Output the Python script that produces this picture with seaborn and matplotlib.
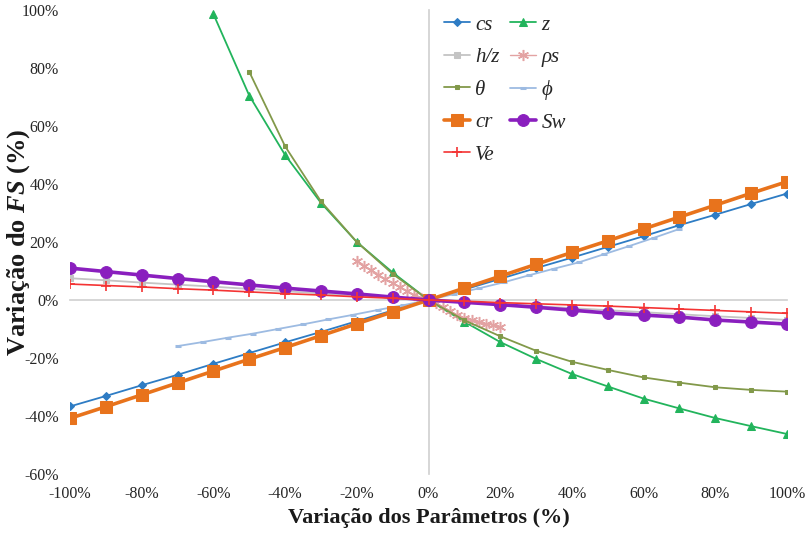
import matplotlib
matplotlib.use("Agg")
import matplotlib.pyplot as plt
import seaborn as sns
from matplotlib.ticker import FuncFormatter

sns.set_theme(style="white")
plt.rcParams["font.family"] = ["Liberation Serif", "DejaVu Serif"]
plt.rcParams["mathtext.fontset"] = "custom"
plt.rcParams["mathtext.bfit"] = "Liberation Serif:bold:italic"
plt.rcParams["mathtext.it"] = "Liberation Serif:italic"
plt.rcParams["mathtext.rm"] = "Liberation Serif"

# ---- data: variation of the parameter (%) vs variation of FS (%) ----
x_full = [-100, -90, -80, -70, -60, -50, -40, -30, -20, -10, 0,
          10, 20, 30, 40, 50, 60, 70, 80, 90, 100]

cs = [-36.7, -33.1, -29.4, -25.8, -22.0, -18.3, -14.6, -11.0, -7.3, -3.6, 0,
      3.6, 7.3, 11.0, 14.6, 18.3, 22.0, 25.8, 29.4, 33.1, 36.7]

x_z = [-60, -50, -40, -30, -20, -10, 0, 10, 20, 30, 40, 50, 60, 70, 80, 90, 100]
z = [98.6, 70.5, 50.0, 33.5, 20.0, 9.5, 0, -7.5, -14.5, -20.3, -25.5,
     -29.8, -34.0, -37.4, -40.7, -43.5, -46.2]

h_z = [7.5, 6.8, 6.0, 5.3, 4.6, 3.8, 3.0, 2.3, 1.5, 0.8, 0,
       -0.7, -1.4, -2.1, -2.8, -3.5, -4.2, -4.9, -5.6, -6.2, -6.9]

x_rho = [-20, -18, -16, -14, -12, -10, -8, -6, -4, -2, 0,
         2, 4, 6, 8, 10, 12, 14, 16, 18, 20]
rho_s = [13.5, 11.8, 10.3, 8.7, 7.2, 5.8, 4.4, 3.0, 1.8, 0.8, 0,
         -1.2, -2.4, -3.8, -5.2, -6.2, -6.9, -7.6, -8.2, -8.6, -9.2]

x_theta = [-50, -40, -30, -20, -10, 0, 10, 20, 30, 40, 50, 60, 70, 80, 90, 100]
theta = [78.7, 53.0, 34.0, 20.0, 9.0, 0, -7.0, -12.5, -17.5, -21.3,
         -24.1, -26.7, -28.5, -30.1, -31.0, -31.6]

x_phi = [-70, -63, -56, -49, -42, -35, -28, -21, -14, -7, 0,
         7, 14, 21, 28, 35, 42, 49, 56, 63, 70]
phi = [-15.9, -14.5, -13.0, -11.6, -10.0, -8.4, -6.7, -5.1, -3.4, -1.8, 0,
       2.0, 4.0, 6.1, 8.5, 10.8, 13.0, 15.8, 18.6, 21.5, 24.5]

cr = [-40.8, -36.8, -32.7, -28.6, -24.5, -20.4, -16.4, -12.3, -8.2, -4.1, 0,
      4.1, 8.2, 12.3, 16.4, 20.4, 24.5, 28.6, 32.7, 36.8, 40.8]

sw = [11.0, 9.8, 8.6, 7.4, 6.3, 5.2, 4.1, 3.1, 2.1, 1.0, 0,
      -0.8, -1.6, -2.5, -3.5, -4.5, -5.2, -5.9, -6.9, -7.6, -8.3]

ve = [5.5, 5.0, 4.5, 3.9, 3.4, 2.8, 2.2, 1.7, 1.1, 0.6, 0,
      -0.4, -0.9, -1.3, -1.7, -2.1, -2.6, -3.1, -3.6, -4.1, -4.6]

x_ticks = [-100, -80, -60, -40, -20, 0, 20, 40, 60, 80, 100]
y_ticks = [-60, -40, -20, 0, 20, 40, 60, 80, 100]

# ---- series in drawing order with their styles ----
asterisk = (6, 2, 0)
series = [
    ("cs",   x_full,  cs,    dict(color="#2E7CC4", marker="D", ms=4.2, lw=1.3)),
    ("z",    x_z,     z,     dict(color="#22B45C", marker="^", ms=6, lw=1.3)),
    ("h/z",  x_full,  h_z,   dict(color="#C4C4C4", marker="s", ms=5, lw=1.3)),
    ("ρs",   x_rho,   rho_s, dict(color="#E3A3A3", marker=asterisk, ms=8, lw=1.0, mew=1.1)),
    ("θ",    x_theta, theta, dict(color="#82994A", marker="s", ms=2.4, lw=1.3)),
    ("ϕ",    x_phi,   phi,   dict(color="#9DBBE2", marker="_", ms=5, lw=1.3, mew=2.2)),
    ("cr",   x_full,  cr,    dict(color="#E8731C", marker="s", ms=8.5, lw=2.6)),
    ("Sw",   x_full,  sw,    dict(color="#8A1FBE", marker="o", ms=8.5, lw=2.6)),
    ("Ve",   x_full,  ve,    dict(color="#F43434", marker="+", ms=6.5, lw=1.2, mew=1.2)),
]

fig = plt.figure(figsize=(8.07, 5.33), dpi=100)
ax = fig.add_axes([70 / 807, 1 - 474 / 533, (787 - 70) / 807, (474 - 10) / 533])

handles = {}
for name, xs, ys, st in series:
    st = dict(st)
    color = st.pop("color")
    sns.lineplot(x=xs, y=ys, ax=ax, color=color, markeredgecolor=color,
                 markerfacecolor=color, estimator=None, sort=False,
                 label=name, **st)
    handles[name] = ax.get_lines()[-1]

ax.set_xlim(-100, 100)
ax.set_ylim(-60, 100)

# axes crossing at the origin
axis_grey = "#CFCFCF"
for side in ("top", "right"):
    ax.spines[side].set_visible(False)
ax.spines["left"].set_position(("data", 0))
ax.spines["bottom"].set_position(("data", 0))
for side in ("left", "bottom"):
    ax.spines[side].set_color(axis_grey)
    ax.spines[side].set_linewidth(1.2)
    ax.spines[side].set_zorder(0.5)
ax.set_xticks(x_ticks)
ax.set_yticks(y_ticks)
ax.tick_params(axis="x", direction="out", length=4, width=1.2, color=axis_grey,
               labelbottom=False)
ax.tick_params(axis="y", length=0, labelleft=False)

pct = FuncFormatter(lambda v, _: f"{v:.0f}%")
label_color = "#262626"
serif = "Liberation Serif"

secx = ax.secondary_xaxis("bottom")
secx.set_xticks(x_ticks)
secx.xaxis.set_major_formatter(pct)
secx.spines["bottom"].set_visible(False)
secx.tick_params(length=0, pad=9, labelsize=11.5, labelcolor=label_color,
                 labelfontfamily=serif)

secy = ax.secondary_yaxis("left")
secy.set_yticks(y_ticks)
secy.yaxis.set_major_formatter(pct)
secy.spines["left"].set_visible(False)
secy.tick_params(length=0, pad=8, labelsize=11.5, labelcolor=label_color,
                 labelfontfamily=serif)

secx.set_xlabel("Variação dos Parâmetros (%)", fontsize=16, fontweight="bold",
                color="#1a1a1a", labelpad=4, fontfamily=serif)
ax.set_ylabel(r"Variação do $\bfit{FS}$ (%)", fontsize=19, fontweight="bold",
              color="#1a1a1a", fontfamily=serif)
ax.yaxis.set_label_coords((32 - 70) / 717, 0.5)

order = ["cs", "h/z", "θ", "cr", "Ve", "z", "ρs", "ϕ", "Sw"]
ax.legend([handles[n] for n in order], order, ncol=2, frameon=False,
          loc="upper left", bbox_to_anchor=(444 / 807, 1 - 15 / 533),
          bbox_transform=fig.transFigure, borderaxespad=0, borderpad=0,
          handlelength=1.25, handletextpad=0.25, columnspacing=0.5,
          labelspacing=0.62, prop=dict(family=serif, style="italic", size=15))

fig.savefig("out.png", dpi=100)
